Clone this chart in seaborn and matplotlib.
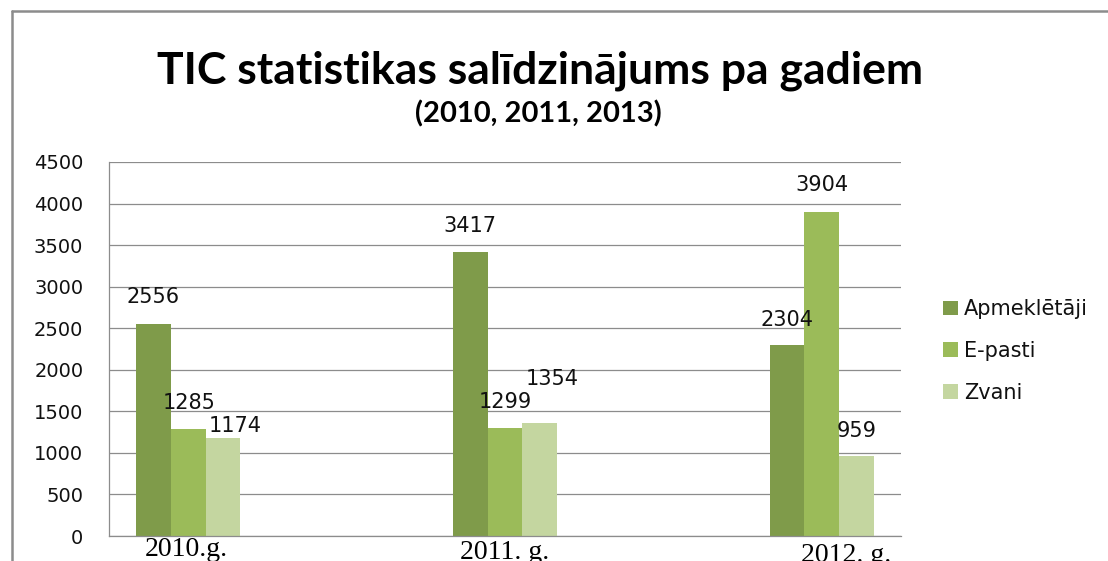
import pandas as pd
import matplotlib
matplotlib.use('Agg')
import matplotlib.pyplot as plt
import matplotlib.transforms as mtransforms
from matplotlib.lines import Line2D
import seaborn as sns

# dati no diagrammas
gadi = ['2010.g.', '2011. g.', '2012. g.']
kategorijas = ['Apmeklētāji', 'E-pasti', 'Zvani']
apmekletaji = [2556, 3417, 2304]
e_pasti = [1285, 1299, 3904]
zvani = [1174, 1354, 959]
krasas = ['#7f9b4a', '#9bbb59', '#c4d6a0']

# datu etiķešu nobīdes (pikseļos), tāpat kā oriģinālā
label_dx = [[0, 0, 0], [1, 0, 0], [12, 12, 0]]
label_dy = [[27, 26, 25], [26, 26, 27], [12, 44, 25]]
# x asu etiķešu nobīdes (pikseļos)
tick_dx = [-1.5, 0, 24]
tick_dy = [0, 3, 6]

df = pd.DataFrame({
    'gads': gadi * 3,
    'tips': [k for k in kategorijas for _ in gadi],
    'skaits': apmekletaji + e_pasti + zvani,
})

sns.set_style('white')
plt.rcParams['font.family'] = ['DejaVu Sans']
plt.rcParams['text.color'] = '#111111'

W, H = 1108, 561
fig = plt.figure(figsize=(W / 100, H / 100), dpi=100)
ax = fig.add_axes([109 / W, 25 / H, 792 / W, 374 / H])

sns.barplot(data=df, x='gads', y='skaits', hue='tips', palette=krasas,
            width=0.33, gap=0, saturation=1, errorbar=None,
            linewidth=0, ax=ax)

ax.set_xlim(-0.25, 2.25)
ax.set_ylim(0, 4500)
ax.set_yticks(range(0, 4501, 500))
ax.set_xlabel('')
ax.set_ylabel('')

ax.yaxis.grid(True, color='#8c8c8c', lw=0.9)
ax.set_axisbelow(True)
for s in ['top', 'right']:
    ax.spines[s].set_visible(False)
for s in ['left', 'bottom']:
    ax.spines[s].set_color('#8c8c8c')
    ax.spines[s].set_linewidth(0.9)

ax.tick_params(axis='y', length=0, pad=18.5, labelsize=14, labelcolor='#111111')
ax.tick_params(axis='x', length=0, pad=0.7)
ax.set_xticks(range(len(gadi)))
ax.set_xticklabels(gadi, fontfamily='Liberation Serif', fontsize=20, color='black')

# datu etiķetes
for i, cont in enumerate(ax.containers):
    for j, bar in enumerate(cont):
        x = bar.get_x() + bar.get_width() / 2
        y = bar.get_height()
        ax.annotate(f'{int(round(y))}', (x, y),
                    xytext=(label_dx[i][j] * 0.72, label_dy[i][j] * 0.72),
                    textcoords='offset points', ha='center', va='center',
                    fontsize=15, color='#111111')

# leģenda
handles, labels = ax.get_legend_handles_labels()
ax.legend(handles, labels, loc='center left',
          bbox_to_anchor=(943 / W, 1 - 351 / H), bbox_transform=fig.transFigure,
          frameon=False, fontsize=15, handlelength=0.7, handleheight=0.7,
          handletextpad=0.3, labelspacing=1.05, borderpad=0, borderaxespad=0)

# virsraksts
fig.text(540 / W, 1 - 71 / H, 'TIC statistikas salīdzinājums pa gadiem',
         ha='center', va='center', fontsize=32, fontweight='bold',
         family=['Lato', 'DejaVu Sans'], color='black')
fig.text(538 / W, 1 - 114 / H, '(2010, 2011, 2013)',
         ha='center', va='center', fontsize=21, fontweight='bold',
         family=['Lato', 'DejaVu Sans'], color='black')

# rāmis
fig.add_artist(Line2D([12 / W, 12 / W], [0, 1 - 11 / H], transform=fig.transFigure,
                      color='#8c8c8c', lw=1.8))
fig.add_artist(Line2D([12 / W, 1], [1 - 11 / H, 1 - 11 / H], transform=fig.transFigure,
                      color='#8c8c8c', lw=1.8))

# x etiķešu nobīde
fig.canvas.draw()
for k, lab in enumerate(ax.get_xticklabels()):
    off = mtransforms.ScaledTranslation(tick_dx[k] / 100, -tick_dy[k] / 100, fig.dpi_scale_trans)
    lab.set_transform(lab.get_transform() + off)

fig.savefig('out.png', dpi=100)
